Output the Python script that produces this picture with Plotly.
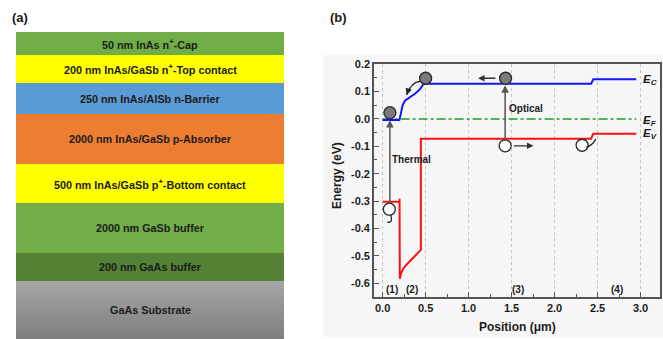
import plotly.graph_objects as go

W, H = 663, 339
FONT = "Arial, Liberation Sans, sans-serif"
INK = "#1c1c1c"

# ---------------- (a) layer stack ----------------
layer_labels = [
    "50 nm InAs n<sup>+</sup>-Cap",
    "200 nm InAs/GaSb n<sup>+</sup>-Top contact",
    "250 nm InAs/AlSb n-Barrier",
    "2000 nm InAs/GaSb p-Absorber",
    "500 nm InAs/GaSb p<sup>+</sup>-Bottom contact",
    "2000 nm GaSb buffer",
    "200 nm GaAs buffer",
    "GaAs Substrate",
]
layer_colors = ["#70ad47", "#ffff00", "#5b9bd5", "#ed7d31",
                "#ffff00", "#70ad47", "#538135", None]
layer_rows = [23, 28, 31, 50, 39, 50, 28, 58]   # drawn row heights

# ---------------- (b) band diagram ----------------
ec_x = [0.0, 0.194, 0.209, 0.233, 0.26, 0.318, 0.376, 0.435, 0.474, 0.50, 2.425, 2.45, 2.95]
ec_y = [-0.004, -0.004, 0.015, 0.051, 0.067, 0.079, 0.092, 0.109, 0.127, 0.129, 0.129, 0.145, 0.145]

ev_x = [0.0, 0.197, 0.197, 0.2, 0.215, 0.241, 0.28, 0.35, 0.445, 0.445, 2.425, 2.45, 2.95]
ev_y = [-0.303, -0.303, -0.292, -0.584, -0.565, -0.547, -0.532, -0.51, -0.479, -0.072, -0.072, -0.054, -0.054]

ef_x = [0.0, 2.95]
ef_y = [0.0, 0.0]

electron_x = [0.085, 0.50, 1.43]
electron_y = [0.023, 0.149, 0.149]
hole_x = [0.078, 1.425, 2.32]
hole_y = [-0.33, -0.098, -0.096]

region_labels = ["(1)", "(2)", "(3)", "(4)"]
region_x = [0.105, 0.345, 1.58, 2.73]
region_y = -0.624

x_ticks = [0.0, 0.5, 1.0, 1.5, 2.0, 2.5, 3.0]
y_ticks = [0.2, 0.1, 0.0, -0.1, -0.2, -0.3, -0.4, -0.5, -0.6]


def px(x):
    return x / W


def py(y):
    return 1 - y / H


fig = go.Figure()

# stacked layers, top to bottom
total = sum(layer_rows)
top = total
for label, color, h in zip(layer_labels, layer_colors, layer_rows):
    bot = top - h
    kw = dict(fillcolor=color)
    if color is None:
        kw = dict(fillcolor="#999999",
                  fillgradient=dict(type="vertical", start=top, stop=bot,
                                    colorscale=[[0, "#a6a6a6"], [1, "#7e7e7e"]]))
    fig.add_trace(go.Scatter(
        x=[0, 1, 1, 0, 0], y=[bot, bot, top, top, bot], mode="lines",
        fill="toself", line=dict(width=0), hoverinfo="skip",
        xaxis="x2", yaxis="y2", showlegend=False, **kw))
    fig.add_annotation(x=0.5, y=(top + bot) / 2, xref="x2", yref="y2",
                       xanchor="center", yanchor="middle",
                       text=f"<b>{label}</b>", showarrow=False,
                       font=dict(family=FONT, size=10.8, color=INK))
    top = bot

# band edges
fig.add_trace(go.Scatter(x=ef_x, y=ef_y, mode="lines",
                         line=dict(color="#1f9a2a", width=1.6, dash="dashdot"),
                         showlegend=False))
fig.add_trace(go.Scatter(x=ec_x, y=ec_y, mode="lines",
                         line=dict(color="#1414ff", width=2), showlegend=False))
fig.add_trace(go.Scatter(x=ev_x, y=ev_y, mode="lines",
                         line=dict(color="#ff1010", width=2), showlegend=False))


def arrow(x0, y0, x1, y1, color="#444444", width=1.5):
    fig.add_annotation(x=x1, y=y1, ax=x0, ay=y0, xref="x", yref="y",
                       axref="x", ayref="y", text="", showarrow=True,
                       arrowhead=2, arrowsize=1, arrowwidth=width,
                       arrowcolor=color)


def curved(x0, y0, cx, cy, x1, y1):
    fig.add_shape(type="path", xref="x", yref="y",
                  path=f"M {x0},{y0} Q {cx},{cy} {x1},{y1}",
                  line=dict(color="#222222", width=1.3))
    fig.add_annotation(x=x1, y=y1, ax=x1 - 0.35 * (x1 - cx),
                       ay=y1 - 0.35 * (y1 - cy), xref="x", yref="y",
                       axref="x", ayref="y", text="", showarrow=True,
                       arrowhead=2, arrowsize=1, arrowwidth=1.3,
                       arrowcolor="#222222")


# thermal and optical excitation
arrow(0.085, -0.31, 0.085, -0.004, color="#555555")
arrow(1.425, -0.078, 1.425, 0.123, color="#555555")
# carrier drift
arrow(1.33, 0.149, 1.11, 0.149, color="#333333", width=1.3)
arrow(1.51, -0.098, 1.755, -0.098, color="#333333", width=1.3)
curved(0.44, 0.138, 0.33, 0.135, 0.28, 0.088)
curved(2.37, -0.103, 2.43, -0.1, 2.48, -0.074)
curved(0.095, -0.35, 0.125, -0.382, 0.055, -0.377)

# carriers
fig.add_trace(go.Scatter(x=electron_x, y=electron_y, mode="markers",
                         marker=dict(size=12, color="#7a7a7a",
                                     line=dict(color="#2a2a2a", width=1.3)),
                         showlegend=False))
fig.add_trace(go.Scatter(x=hole_x, y=hole_y, mode="markers",
                         marker=dict(size=12, color="white",
                                     line=dict(color="#2a2a2a", width=1.3)),
                         showlegend=False))

# text in the band diagram
small = dict(family=FONT, size=10, color=INK)
fig.add_annotation(x=0.34, y=-0.147, text="<b>Thermal</b>", showarrow=False, font=small)
fig.add_annotation(x=1.67, y=0.037, text="<b>Optical</b>", showarrow=False, font=small)
for lab, rx in zip(region_labels, region_x):
    fig.add_annotation(x=rx, y=region_y, text=f"<b>{lab}</b>", showarrow=False, font=small)

band_font = dict(family=FONT, size=11.5, color=INK)
for lab, yy in [("C", 0.141), ("F", -0.007), ("V", -0.055)]:
    fig.add_annotation(x=3.01, y=yy, xanchor="left", yanchor="middle",
                       text=f"<b><i>E<sub>{lab}</sub></i></b>",
                       showarrow=False, font=band_font)

# axis titles and panel tags
fig.add_annotation(x=px(337), y=py(176), xref="paper", yref="paper",
                   xanchor="center", yanchor="middle",
                   text="<b>Energy (eV)</b>", textangle=-90, showarrow=False,
                   font=dict(family=FONT, size=12, color=INK))
fig.add_annotation(x=px(517), y=py(327), xref="paper", yref="paper",
                   xanchor="center", yanchor="middle",
                   text="<b>Position (\u03bcm)</b>", showarrow=False,
                   font=dict(family=FONT, size=12, color=INK))
for tag, tx in [("(a)", 20), ("(b)", 338)]:
    fig.add_annotation(x=px(tx), y=py(18), xref="paper", yref="paper",
                       xanchor="center", yanchor="middle",
                       text=f"<b>{tag}</b>", showarrow=False,
                       font=dict(family=FONT, size=13, color=INK))

# faint panel backdrop
fig.add_shape(type="rect", xref="paper", yref="paper", layer="below",
              x0=px(323), x1=1.0, y0=py(337), y1=py(55),
              fillcolor="#f6f6f6", line=dict(width=0))

axis_common = dict(showline=True, mirror=True, linecolor="#555555", linewidth=1.6,
                   ticks="inside", ticklen=5, tickwidth=1.2, tickcolor="#555555",
                   zeroline=False, automargin=False,
                   tickfont=dict(family=FONT, size=11, color=INK))

fig.update_layout(
    template="none",
    width=W, height=H, margin=dict(l=0, r=0, t=0, b=0, pad=0),
    paper_bgcolor="white", plot_bgcolor="white",
    xaxis=dict(domain=[px(374), px(659.5)], range=[-0.1, 3.22],
               tickmode="array", tickvals=x_ticks,
               ticktext=[f"<b>{v:.1f}</b>" for v in x_ticks],
               showgrid=True, gridcolor="#c4c4c4", griddash="dot", gridwidth=1,
               minor=dict(ticks="inside", ticklen=3, tickcolor="#555555",
                          tickmode="linear", tick0=0.25, dtick=0.5, showgrid=False),
               **axis_common),
    yaxis=dict(domain=[py(296.7), py(64.3)], range=[-0.65, 0.2],
               tickmode="array", tickvals=y_ticks,
               ticktext=["<b>%s</b>" % f"{v:.1f}".replace("-0.0", "0.0") for v in y_ticks],
               showgrid=False,
               minor=dict(ticks="inside", ticklen=3, tickcolor="#555555",
                          tickmode="linear", tick0=0.05, dtick=0.1, showgrid=False),
               **axis_common),
    xaxis2=dict(domain=[px(16), px(284)], range=[0, 1], visible=False,
                fixedrange=True, automargin=False),
    yaxis2=dict(domain=[0, py(32)], range=[0, total], visible=False,
                fixedrange=True, automargin=False),
)

fig.write_html("out.html")
